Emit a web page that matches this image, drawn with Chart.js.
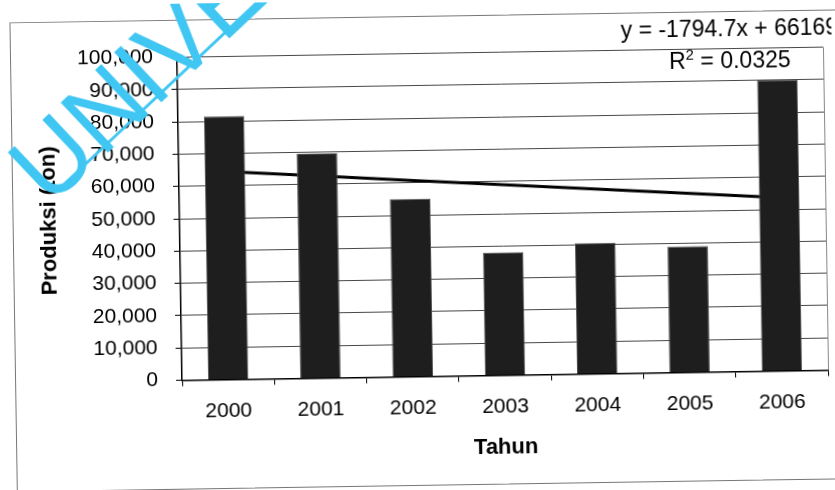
<!DOCTYPE html>
<html>
<head>
<meta charset="utf-8">
<script src="https://cdn.jsdelivr.net/npm/chart.js@4.4.1/dist/chart.umd.min.js"></script>
<style>
  html, body { margin: 0; padding: 0; background: #fff; overflow: hidden; }
  #wrap { position: relative; width: 835px; height: 490px; transform: rotate(-0.9deg); transform-origin: 50% 50%; }
  #frame { position: absolute; left: 13px; top: 16px; width: 850px; height: 468px; border: 1px solid #777; }
  canvas { position: absolute; left: 0; top: 0; }
</style>
</head>
<body>
<div id="wrap">
  <div id="frame"></div>
  <canvas id="produksiChart" width="835" height="490"></canvas>
</div>
<script>
// annual production, tonnes
const years = ['2000', '2001', '2002', '2003', '2004', '2005', '2006'];
const produksi = [81500, 69500, 55000, 38000, 40500, 39000, 90000];

// y axis range
const yMin = 0;
const yMax = 100000;
const yStep = 10000;

// linear trend (x = 1 for 2000 ... 7 for 2006)
const trendSlope = -1794.7;
const trendIntercept = 66169;
const trendR2 = '0.0325';
const trendLine = years.map((_, i) => trendSlope * (i + 1) + trendIntercept);

Chart.defaults.font.family = "'Liberation Sans', Arial, sans-serif";
Chart.defaults.color = '#000';

// extra drawing: plot frame on the right, trend equation, watermark
const extras = {
  id: 'extras',
  afterDatasetsDraw(chart) {
    const { ctx, chartArea: a } = chart;
    ctx.save();
    ctx.strokeStyle = '#888';
    ctx.lineWidth = 1;
    ctx.beginPath();
    ctx.moveTo(a.right + 0.5, a.top);
    ctx.lineTo(a.right + 0.5, a.bottom);
    ctx.stroke();
    ctx.restore();
  },
  afterDraw(chart) {
    const { ctx } = chart;
    ctx.save();
    ctx.fillStyle = '#000';
    ctx.textBaseline = 'middle';
    ctx.textAlign = 'left';
    ctx.font = "23px 'Liberation Sans', Arial, sans-serif";
    ctx.fillText('y = ' + trendSlope + 'x + ' + trendIntercept, 624, 35);
    // R² with a raised 2
    let x = 672;
    ctx.fillText('R', x, 67);
    x += ctx.measureText('R').width;
    ctx.font = "15px 'Liberation Sans', Arial, sans-serif";
    ctx.fillText('2', x, 60);
    x += ctx.measureText('2').width;
    ctx.font = "23px 'Liberation Sans', Arial, sans-serif";
    ctx.fillText(' = ' + trendR2, x, 67);
    ctx.restore();

    // watermark
    ctx.save();
    ctx.fillStyle = '#3fc6f2';
    ctx.translate(50, 202);
    ctx.rotate(-42.4 * Math.PI / 180);
    ctx.font = "100px 'Liberation Sans', Arial, sans-serif";
    ctx.textBaseline = 'alphabetic';
    ctx.fillText('UNIVERSITAS', 0, 0);
    ctx.restore();

    ctx.save();
    ctx.strokeStyle = '#3fc6f2';
    ctx.lineWidth = 3;
    ctx.translate(56, 187);
    ctx.rotate(-42.4 * Math.PI / 180);
    ctx.beginPath();
    ctx.moveTo(0, 0);
    ctx.lineTo(400, 0);
    ctx.stroke();
    ctx.restore();
  }
};

new Chart(document.getElementById('produksiChart'), {
  type: 'bar',
  data: {
    labels: years,
    datasets: [{
      type: 'bar',
      data: produksi,
      backgroundColor: '#1e1e1e',
      borderColor: '#555',
      borderWidth: 1,
      barPercentage: 1,
      categoryPercentage: 0.44
    }, {
      type: 'line',
      data: trendLine,
      borderColor: '#000',
      borderWidth: 3,
      pointRadius: 0,
      fill: false,
      tension: 0
    }]
  },
  options: {
    responsive: false,
    animation: false,
    layout: { padding: { top: 53.5, right: 9, left: 0, bottom: 0 } },
    plugins: { legend: { display: false }, tooltip: { enabled: false } },
    scales: {
      x: {
        offset: true,
        afterFit: (scale) => { scale.height = 113.5; },
        grid: { display: true, drawOnChartArea: false, offset: true, tickLength: 6, color: '#000' },
        border: { color: '#000', width: 1.5 },
        ticks: { font: { size: 21 }, padding: 13, color: '#000' },
        title: {
          display: true,
          text: 'Tahun',
          font: { size: 22, weight: 'bold' },
          color: '#000',
          padding: { top: 0, bottom: 28 }
        }
      },
      y: {
        min: yMin,
        max: yMax,
        afterFit: (scale) => { scale.width = 180; },
        grid: { color: '#474747', lineWidth: 1, tickLength: 6, tickColor: '#000' },
        border: { color: '#000', width: 1.5 },
        ticks: { stepSize: yStep, font: { size: 21 }, padding: 18, color: '#000' },
        title: {
          display: true,
          text: 'Produksi (ton)',
          font: { size: 22, weight: 'bold' },
          color: '#000',
          padding: { top: 37, bottom: 0 }
        }
      }
    }
  },
  plugins: [extras]
});
</script>
</body>
</html>
